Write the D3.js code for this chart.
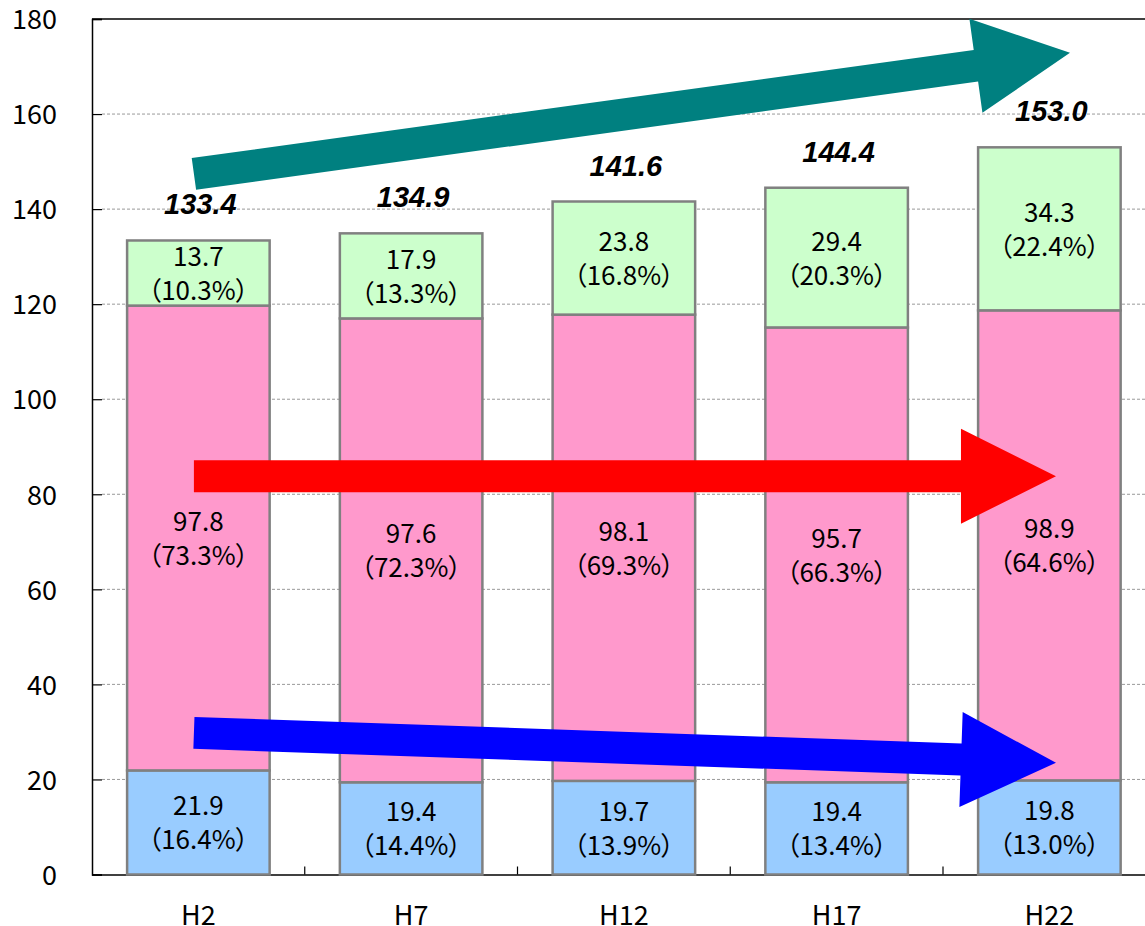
<!DOCTYPE html>
<html>
<head>
<meta charset="utf-8">
<script src="https://cdn.jsdelivr.net/npm/d3@7"></script>
<style>
  html, body { margin: 0; padding: 0; background: #fff; }
  svg { display: block; }
  .lbl { font-family: "Noto Sans CJK JP", "Noto Sans", sans-serif; font-feature-settings: "palt"; }
</style>
</head>
<body>
<svg id="chart" width="1145" height="926"></svg>
<script>
// ---- data ----
const categories = ["H2", "H7", "H12", "H17", "H22"];
const blueValues  = [21.9, 19.4, 19.7, 19.4, 19.8];
const pinkValues  = [97.8, 97.6, 98.1, 95.7, 98.9];
const greenValues = [13.7, 17.9, 23.8, 29.4, 34.3];
const bluePct  = ["16.4", "14.4", "13.9", "13.4", "13.0"];
const pinkPct  = ["73.3", "72.3", "69.3", "66.3", "64.6"];
const greenPct = ["10.3", "13.3", "16.8", "20.3", "22.4"];
const totals = ["133.4", "134.9", "141.6", "144.4", "153.0"];
const yTicks = [0, 20, 40, 60, 80, 100, 120, 140, 160, 180];
// trend arrows: start/end in (category units, value units)
const arrowTeal = { from: [0.479, 147.4], to: [4.597, 172.9] };
const arrowRed  = { from: [0.479, 83.8],  to: [4.531, 83.8] };
const arrowBlue = { from: [0.479, 29.8],  to: [4.531, 23.5] };

(function () {
// ---- layout ----
const svg = d3.select("#chart");
const mLeft = 92, mRight = 1155.75, mTop = 19, mBottom = 874.5;

const x = d3.scaleBand().domain(categories).range([mLeft, mRight])
  .paddingInner(0.33).paddingOuter(0.165);
const xLin = d3.scaleLinear().domain([0, categories.length]).range([mLeft, mRight]);
const y = d3.scaleLinear().domain([0, 180]).range([mBottom, mTop]);

// gridlines
svg.append("g").selectAll("line").data(yTicks.filter(t => t > 0 && t < 180)).join("line")
  .attr("x1", mLeft + 10).attr("x2", mRight)
  .attr("y1", d => y(d)).attr("y2", d => y(d))
  .attr("stroke", "#999").attr("stroke-width", 1).attr("stroke-dasharray", "3,2");

// plot border top
svg.append("line").attr("x1", mLeft).attr("x2", mRight).attr("y1", y(180)).attr("y2", y(180))
  .attr("stroke", "#000").attr("stroke-width", 1.5);

// y axis
const yAxis = d3.axisLeft(y).tickValues(yTicks).tickSize(-10).tickPadding(35);
const gy = svg.append("g").attr("transform", `translate(${mLeft},0)`).call(yAxis);
gy.select(".domain").attr("stroke", "#000").attr("stroke-width", 1.5);
gy.selectAll(".tick line").attr("stroke", "#000").attr("stroke-width", 1.2);
gy.selectAll(".tick text").attr("font-family", "'Noto Sans CJK JP', sans-serif")
  .attr("font-size", 27).attr("fill", "#000").attr("dy", "0.36em");

// x axis
const xAxis = d3.axisBottom(x).tickSize(0).tickPadding(30);
const gx = svg.append("g").attr("transform", `translate(0,${mBottom})`).call(xAxis);
gx.select(".domain").attr("stroke", "#000").attr("stroke-width", 1.5);
gx.selectAll(".tick text").attr("font-family", "'Noto Sans CJK JP', sans-serif")
  .attr("font-size", 27).attr("fill", "#000").attr("dy", "0.75em");
// category separator ticks
svg.append("g").selectAll("line").data(d3.range(1, categories.length)).join("line")
  .attr("x1", d => xLin(d)).attr("x2", d => xLin(d))
  .attr("y1", mBottom).attr("y2", mBottom - 8)
  .attr("stroke", "#000").attr("stroke-width", 1.2);

// stacked bars
const series = [
  { vals: blueValues, pct: bluePct, color: "#99CCFF" },
  { vals: pinkValues, pct: pinkPct, color: "#FF99CC" },
  { vals: greenValues, pct: greenPct, color: "#CCFFCC" }
];
const rows = categories.map((c, i) => {
  let acc = 0;
  return series.map((s, k) => {
    const y0 = acc; acc += s.vals[i];
    return { cat: c, i, k, y0, y1: acc, v: s.vals[i], pct: s.pct[i], color: s.color };
  });
}).flat();

const barG = svg.append("g");
barG.selectAll("rect").data(rows).join("rect")
  .attr("x", d => x(d.cat)).attr("width", x.bandwidth())
  .attr("y", d => y(d.y1)).attr("height", d => y(d.y0) - y(d.y1))
  .attr("fill", d => d.color).attr("stroke", "#808080").attr("stroke-width", 2.5);

const lblG = svg.append("g").attr("class", "lbl");
rows.forEach(d => {
  const cx = x(d.cat) + x.bandwidth() / 2;
  const cy = (y(d.y0) + y(d.y1)) / 2;
  lblG.append("text").attr("x", cx).attr("y", cy - 7).attr("text-anchor", "middle")
    .attr("font-size", 26).attr("fill", "#000").text(d.v.toFixed(1));
  lblG.append("text").attr("x", cx).attr("y", cy + 27).attr("text-anchor", "middle")
    .attr("font-size", 26).attr("fill", "#000").text("（" + d.pct + "%）");
});

// totals
const stackTop = categories.map((c, i) => blueValues[i] + pinkValues[i] + greenValues[i]);
svg.append("g").selectAll("text").data(categories).join("text")
  .attr("x", d => x(d) + x.bandwidth() / 2 + 2)
  .attr("y", (d, i) => y(stackTop[i]) - 26)
  .attr("text-anchor", "middle")
  .attr("font-family", "'Liberation Sans', Arial, sans-serif")
  .attr("font-weight", "bold").attr("font-style", "italic")
  .attr("font-size", 29).attr("fill", "#000")
  .text((d, i) => totals[i]);

// arrows
function arrowPath(a, shaft, headW, headL) {
  const p0 = [xLin(a.from[0]), y(a.from[1])];
  const p1 = [xLin(a.to[0]), y(a.to[1])];
  const dx = p1[0] - p0[0], dy = p1[1] - p0[1];
  const len = Math.hypot(dx, dy);
  const u = [dx / len, dy / len], n = [-u[1], u[0]];
  const b = [p1[0] - u[0] * headL, p1[1] - u[1] * headL];
  const pt = (base, s) => [base[0] + n[0] * s, base[1] + n[1] * s];
  const pts = [pt(p0, -shaft / 2), pt(b, -shaft / 2), pt(b, -headW / 2), p1,
               pt(b, headW / 2), pt(b, shaft / 2), pt(p0, shaft / 2)];
  return d3.line()(pts) + "Z";
}
const arrows = [
  { a: arrowTeal, color: "#008080" },
  { a: arrowRed, color: "#FF0000" },
  { a: arrowBlue, color: "#0000FF" }
];
svg.append("g").selectAll("path").data(arrows).join("path")
  .attr("d", d => arrowPath(d.a, 32, 95, 95))
  .attr("fill", d => d.color);
})();
</script>
</body>
</html>
